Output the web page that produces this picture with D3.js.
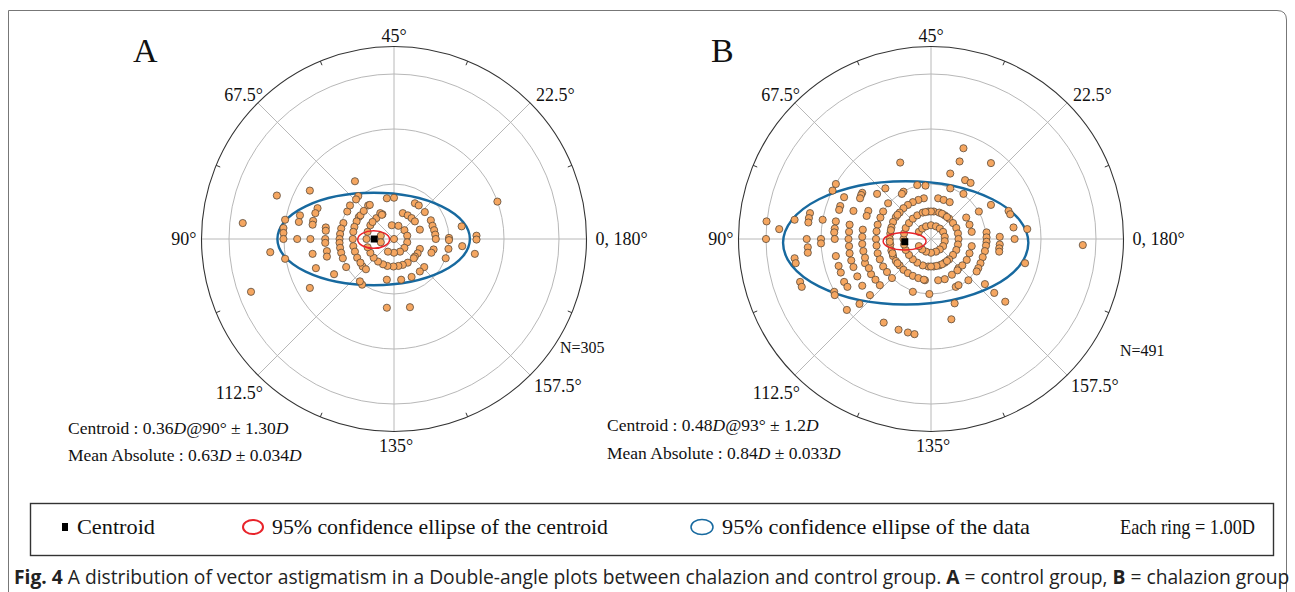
<!DOCTYPE html>
<html><head><meta charset="utf-8">
<script src="https://cdn.jsdelivr.net/npm/d3@7"></script>
<style>html,body{margin:0;padding:0;background:#fff;} svg{display:block;}</style>
</head><body><svg id="chart" width="1295" height="592"></svg>
<script>
// ---------- DATA ----------
const axisAngles = [0, 22.5, 45, 67.5, 90, 112.5, 135, 157.5];
const angleLabels = ["0, 180°", "22.5°", "45°", "67.5°", "90°", "112.5°", "135°", "157.5°"];
const ringValues = [1, 2, 3];
const maxDiopter = 3.5;

// double-angle coordinates (D): x = C·cos2θ, y = C·sin2θ
const pointsA = [
[-0.71,1.05],[-1.53,0.88],[-2.13,0.79],[-0.65,0.78],[-0.69,0.72],[-1.39,0.56],[-1.43,0.47],[-1.71,0.43],[-1.73,0.31],[-1.98,0.35],
[-2.01,0.20],[-2.01,0.11],[-2.01,0],[-2.75,0.29],[-1.76,0],[-1.52,0],[-1.47,0.33],[-1.48,0.26],[-1.24,0.21],[-1.24,0.15],
[-1.25,0],[-1.25,-0.07],[-2.25,-0.24],[-1.98,-0.36],[-1.48,-0.27],[-1.22,-0.22],[-1.22,-0.32],[-1.42,-0.53],[-1.09,-0.64],[-0.87,-0.51],
[-1.53,-0.89],[-2.60,-0.96],[-0.85,0.50],[-0.80,0.61],[-0.58,-0.83],[-0.62,-0.77],[-0.13,-1.25],[0.29,-1.24],[1.88,0.68],[1.23,0.23],
[1.50,0.06],[1.50,-0.01],[1.24,-0.13],[1.47,-0.27],[1.0,0.02],[1.0,-0.02],[0.99,-0.18],[0.94,-0.35],[0,0],
[-0.04,0.25],[0.08,0.24],[0.19,0.16],[0.24,0.06],[0.24,-0.06],[0.19,-0.16],[0.11,-0.23],[0,-0.25],[-0.11,-0.23],[-0.24,0.06],[-0.24,-0.06],
[-0.32,0.38],[-0.21,0.45],[-0.25,0.47],[-0.22,0.44],[0.16,0.47],[0.25,0.43],[0.32,0.38],[0.38,0.32],[0.47,0.17],[0.47,-0.18],
[0.43,-0.26],[0.38,-0.32],[0.36,-0.35],[0.25,-0.43],[0.16,-0.47],[0.08,-0.49],[-0.01,-0.5],[-0.12,-0.49],[-0.20,-0.46],[-0.29,-0.41],
[-0.37,-0.34],[-0.43,-0.25],[-0.48,-0.15],[-0.5,0],[-0.48,0.13],[-0.43,0.25],[-0.39,0.31],
[-0.47,0.61],[-0.44,0.62],[-0.13,0.74],[0,0.75],[0.38,0.65],[0.45,0.61],[0.56,0.49],[0.67,0.34],[0.70,0.24],[0.73,0.16],
[0.75,0.08],[0.76,0],[0.72,-0.19],[0.68,-0.25],[0.55,-0.51],[0.47,-0.59],[0.32,-0.69],[0.13,-0.74],[-0.13,-0.74],[-0.57,-0.50],
[-0.51,-0.55],[-0.64,0.40],[-0.61,0.43],[-0.68,0.32],[-0.72,0.22],[-0.74,0.13],[-0.75,0],[-0.74,-0.13],[-0.71,-0.23],[-0.67,-0.34],
[-0.61,-0.43],[-0.55,0.51],
[-0.92,0.29],[-0.96,0.19],[-0.98,0.09],[-0.99,0],[-0.99,-0.07],[-0.98,-0.16],[-0.96,-0.25],[-0.93,-0.35]
];

const pointsB = [
[-1.73,1.00],[-1.79,0.88],[-1.58,0.76],[-1.25,0.84],[-1.27,0.80],[-1.29,0.74],[-1.65,0.60],[-1.67,0.53],[-1.41,0.51],[-1.14,0.51],
[-1.17,0.42],[-2.20,0.47],[-2.22,0.38],[-2.23,0.30],[-1.97,0.35],[-1.73,0.32],[-1.75,0.19],[-1.76,0.12],[-1.75,0],[-2.99,0.32],
[-3.0,0],[-2.76,0.18],[-2.48,0.35],[-2.26,0],[-2.0,0],[-2.0,-0.08],[-2.24,-0.15],[-2.24,-0.25],[-2.48,-0.35],[-2.46,-0.44],
[-2.38,-0.78],[-2.35,-0.87],[-1.73,-0.31],[-1.68,-0.49],[-1.64,-0.61],[-1.58,-0.78],[-1.52,-0.87],[-1.76,-0.96],[-1.75,-1.02],[-1.53,-1.29],
[-1.30,-1.18],[-1.34,-0.68],[-1.25,-0.85],[-1.09,-0.64],[-1.11,-1.02],[-1.20,-0.44],
[-0.56,1.39],[0.59,1.65],[0.52,1.41],[0.35,1.19],[0.62,1.07],[0.72,1.02],[-0.98,0.82],[-0.83,0.92],[-0.50,0.86],[-0.53,0.82],
[-0.25,0.98],[-0.10,0.97],[0.35,0.92],[0.87,0.50],[0.59,0.82],[-0.78,0.65],
[-0.86,-1.52],[-0.59,-1.65],[-0.42,-1.70],[-0.30,-1.73],[0.37,-1.46],[0.43,-1.17],[-0.33,-0.96],[-0.03,-1.0],
[1.09,1.38],[1.09,0.62],[1.41,0.51],[1.44,0.45],[1.50,0.21],[1.52,0],[1.75,0.18],[1.25,0.04],[1.25,-0.10],[1.24,-0.17],
[1.24,-0.23],[2.76,-0.11],[1.71,-0.44],[1.15,-0.98],[1.35,-1.14],
[0.50,-0.53],[0.68,-0.75],[0.98,-0.82],[0.13,-0.75],[0.25,-0.73],[-0.11,-0.75],[0.45,-0.87],[0.50,-0.84],[0.70,0.26],
[-0.22,0.13],[-0.16,0.19],[-0.09,0.23],[0,0.25],[0.09,0.23],[0.16,0.19],[0.22,0.13],[0.25,0.04],[0.25,-0.04],[0.22,-0.13],
[0.16,-0.19],[0.09,-0.23],[0,-0.25],[-0.09,-0.23],[-0.16,-0.19],[-0.22,-0.13],
[-0.5,0],[-0.49,0.10],[-0.46,0.20],[-0.40,0.29],[-0.33,0.37],[-0.25,0.43],[-0.15,0.48],[-0.05,0.50],[0.05,0.50],[0.15,0.48],
[0.25,0.43],[0.33,0.37],[0.40,0.29],[0.46,0.20],[0.49,0.10],[0.5,0],[0.49,-0.10],[0.46,-0.20],[0.40,-0.29],[0.33,-0.37],
[0.25,-0.43],[0.15,-0.48],[0.05,-0.50],[-0.05,-0.50],[-0.15,-0.48],[-0.25,-0.43],[-0.33,-0.37],[-0.40,-0.29],[-0.46,-0.20],[-0.49,-0.10],
[0.20,0.46],[0.29,0.40],[0.20,-0.46],[0.29,-0.40],[0.10,-0.49],[0,-0.5],[0,0.5],[-0.10,0.49],
[-0.13,0.74],[-0.23,0.71],[-0.33,0.67],[-0.42,0.62],[-0.50,0.56],[-0.57,0.48],[-0.64,0.40],[-0.69,0.31],[-0.72,0.21],[-0.74,0.10],
[-0.75,0],[-0.74,-0.10],[-0.72,-0.21],[-0.69,-0.31],[-0.64,-0.40],[-0.57,-0.48],[-0.50,-0.56],[-0.42,-0.62],[-0.33,-0.67],[-0.23,-0.71],
[-0.13,-0.74],[0.13,0.74],[0.23,0.71],[0.34,0.67],[0.64,0.39],[0.74,0.13],[0.74,-0.13],[0.70,-0.26],[0.65,-0.38],[0.57,-0.48],
[0.48,-0.57],[0.38,-0.65],[-0.61,0.44],[-0.73,0.16],[-0.75,-0.05],[-0.70,-0.26],[-0.61,-0.44],
[-0.87,0.50],[-0.92,0.39],[-0.97,0.26],[-0.99,0.14],[-1,0],[-0.99,-0.12],[-0.97,-0.26],[-0.93,-0.37],[-0.87,-0.50],[-0.80,-0.60],
[-0.71,-0.71],[1.01,0.12],[1.01,0.03],[1.01,-0.05],[1.0,-0.12],[0.98,-0.22],[0.94,-0.33],[0.90,-0.44],[0.86,-0.53],[0.83,-0.59],
[-1.24,0.17],[-1.25,0.04],[-1.25,-0.09],[-1.23,-0.22],[-1.20,-0.34],[-1.13,-0.53],[-1.01,-0.74],[-0.93,-0.84],
[-1.48,0.26],[-1.49,0.13],[-1.5,0],[-1.49,-0.13],[-1.48,-0.26],[-1.45,-0.39],[-1.41,-0.51]
];

// centroid [x, y] (D); ellipses [cx, cy, rx, ry] (D)
const centroidA = [-0.36, 0];
const centroidEllipseA = [-0.37, -0.01, 0.29, 0.16];
const dataEllipseA = [-0.37, 0, 1.75, 0.84];
const centroidB = [-0.477, -0.05];
const centroidEllipseB = [-0.48, -0.04, 0.39, 0.16];
const dataEllipseB = [-0.46, -0.07, 2.23, 1.12];

const panelLetters = ["A", "B"];
const centroidStats = [["0.36", "90", "1.30"], ["0.48", "93", "1.2"]];
const meanAbsStats = [["0.63", "0.034"], ["0.84", "0.033"]];
const sampleSizes = [305, 491];

const legendLabels = ["Centroid", "95% confidence ellipse of the centroid", "95% confidence ellipse of the data", "Each ring = 1.00D"];

// ---------- LAYOUT ----------
const svg = d3.select("#chart");
const R = 192.5;
const panels = [
  {cx: 394, cy: 239, letterX: 133, letterY: 62, statX: 68, statY1: 434, statY2: 461, nX: 560, nY: 353},
  {cx: 931, cy: 239, letterX: 711, letterY: 62, statX: 607, statY1: 431, statY2: 459, nX: 1120, nY: 356}
];
const serif = "'Liberation Serif', 'Times New Roman', serif";
const gridColor = "#b8b8b8";
const dotFill = "#f5a660";
const blue = "#17699f";
const red = "#e8232a";

// outer frame
svg.append("path")
  .attr("d", "M8.5,592 L8.5,10.5 L1277,10.5 Q1286.5,10.5 1286.5,20 L1286.5,592")
  .attr("fill", "none").attr("stroke", "#777").attr("stroke-width", 1);

const datasets = [
  {pts: pointsA, c: centroidA, ce: centroidEllipseA, de: dataEllipseA},
  {pts: pointsB, c: centroidB, ce: centroidEllipseB, de: dataEllipseB}
];

panels.forEach((p, i) => {
  const d = datasets[i];
  const g = svg.append("g");
  const x = d3.scaleLinear().domain([-maxDiopter, maxDiopter]).range([p.cx - R, p.cx + R]);
  const y = d3.scaleLinear().domain([-maxDiopter, maxDiopter]).range([p.cy + R, p.cy - R]);
  const r = d3.scaleLinear().domain([0, maxDiopter]).range([0, R]);
  const rad = a => 2 * a * Math.PI / 180;

  g.selectAll("circle.ring").data(ringValues).join("circle")
    .attr("cx", x(0)).attr("cy", y(0)).attr("r", v => r(v))
    .attr("fill", "none").attr("stroke", gridColor).attr("stroke-width", 1);
  g.selectAll("line.spoke").data(axisAngles).join("line")
    .attr("x1", x(0)).attr("y1", y(0))
    .attr("x2", a => x(maxDiopter * Math.cos(rad(a))))
    .attr("y2", a => y(maxDiopter * Math.sin(rad(a))))
    .attr("stroke", gridColor).attr("stroke-width", 1);
  g.append("circle").attr("cx", x(0)).attr("cy", y(0)).attr("r", r(maxDiopter))
    .attr("fill", "none").attr("stroke", "#333").attr("stroke-width", 1.1);
  const tickAngles = axisAngles.map(a => a + 11.25);
  g.selectAll("line.tick").data(tickAngles).join("line")
    .attr("x1", a => x(maxDiopter * Math.cos(rad(a))))
    .attr("y1", a => y(maxDiopter * Math.sin(rad(a))))
    .attr("x2", a => x((maxDiopter - 0.08) * Math.cos(rad(a))))
    .attr("y2", a => y((maxDiopter - 0.08) * Math.sin(rad(a))))
    .attr("stroke", "#333").attr("stroke-width", 1);

  const lab = (a) => {
    const s = 2 * a;
    const c = Math.cos(s * Math.PI / 180), sn = Math.sin(s * Math.PI / 180);
    if (s === 0) return {x: x(0) + R + 9, y: y(0) + 6, anchor: "start"};
    if (s === 180) return {x: x(0) - R - 5, y: y(0) + 6, anchor: "end"};
    if (s === 90) return {x: x(0), y: y(0) - R - 5, anchor: "middle"};
    if (s === 270) return {x: x(0) + 2, y: y(0) + R + 20, anchor: "middle"};
    if (s === 45) return {x: x(0) + R * c + 6, y: y(0) - R * sn - 2, anchor: "start"};
    if (s === 135) return {x: x(0) + R * c + 5, y: y(0) - R * sn - 2, anchor: "end"};
    if (s === 225) return {x: x(0) + R * c + 5, y: y(0) - R * sn + 24, anchor: "end"};
    return {x: x(0) + R * c + 4, y: y(0) - R * sn + 17, anchor: "start"};
  };
  g.selectAll("text.ang").data(axisAngles).join("text")
    .attr("x", a => lab(a).x).attr("y", a => lab(a).y)
    .attr("text-anchor", a => lab(a).anchor)
    .attr("font-family", serif).attr("font-size", 18).attr("fill", "#111")
    .text((a, k) => angleLabels[k]);

  g.append("ellipse").attr("cx", x(d.de[0])).attr("cy", y(d.de[1]))
    .attr("rx", r(d.de[2])).attr("ry", r(d.de[3]))
    .attr("fill", "none").attr("stroke", blue).attr("stroke-width", 2.4);
  g.selectAll("circle.pt").data(d.pts).join("circle")
    .attr("cx", v => x(v[0])).attr("cy", v => y(v[1])).attr("r", 3.6)
    .attr("fill", dotFill).attr("stroke", "#5a4a3a").attr("stroke-width", 0.8);
  g.append("ellipse").attr("cx", x(d.ce[0])).attr("cy", y(d.ce[1]))
    .attr("rx", r(d.ce[2])).attr("ry", r(d.ce[3]))
    .attr("fill", "none").attr("stroke", red).attr("stroke-width", 1.5);
  g.append("rect").attr("x", x(d.c[0]) - 3.5).attr("y", y(d.c[1]) - 3.5)
    .attr("width", 7).attr("height", 7).attr("fill", "#000");

  g.append("text").attr("x", p.letterX).attr("y", p.letterY)
    .attr("font-family", serif).attr("font-size", 34).attr("fill", "#111").text(panelLetters[i]);
  g.append("text").attr("x", p.nX).attr("y", p.nY)
    .attr("font-family", serif).attr("font-size", 16).attr("fill", "#111").text("N=" + sampleSizes[i]);

  const cs = centroidStats[i], ms = meanAbsStats[i];
  const t1 = g.append("text").attr("x", p.statX).attr("y", p.statY1)
    .attr("font-family", serif).attr("font-size", 17.5).attr("fill", "#111");
  t1.append("tspan").text("Centroid : " + cs[0]);
  t1.append("tspan").attr("font-style", "italic").text("D");
  t1.append("tspan").text("@" + cs[1] + "° ± " + cs[2]);
  t1.append("tspan").attr("font-style", "italic").text("D");
  const t2 = g.append("text").attr("x", p.statX).attr("y", p.statY2)
    .attr("font-family", serif).attr("font-size", 17.5).attr("fill", "#111");
  t2.append("tspan").text("Mean Absolute : " + ms[0]);
  t2.append("tspan").attr("font-style", "italic").text("D");
  t2.append("tspan").text(" ± " + ms[1]);
  t2.append("tspan").attr("font-style", "italic").text("D");
});

// ---------- LEGEND ----------
const lg = svg.append("g");
lg.append("rect").attr("x", 30.5).attr("y", 503.5).attr("width", 1243).attr("height", 52)
  .attr("fill", "none").attr("stroke", "#333").attr("stroke-width", 1.4);
const ly = 527;
lg.append("rect").attr("x", 62).attr("y", ly - 4).attr("width", 6).attr("height", 8).attr("fill", "#000");
lg.append("ellipse").attr("cx", 253).attr("cy", ly).attr("rx", 10).attr("ry", 7)
  .attr("fill", "none").attr("stroke", red).attr("stroke-width", 2);
lg.append("ellipse").attr("cx", 702).attr("cy", ly).attr("rx", 11).attr("ry", 7.5)
  .attr("fill", "none").attr("stroke", blue).attr("stroke-width", 1.5);
const legendX = [77, 272, 722, 1120];
const legendW = [78, 336, 308, 135];
lg.selectAll("text.lg").data(legendLabels).join("text")
  .attr("x", (t, k) => legendX[k]).attr("y", ly + 7)
  .attr("font-family", serif).attr("font-size", 21).attr("fill", "#111")
  .attr("textLength", (t, k) => legendW[k]).attr("lengthAdjust", "spacingAndGlyphs")
  .text(t => t);

// ---------- CAPTION ----------
const cap = svg.append("text").attr("x", 14).attr("y", 584)
  .attr("font-family", "'Open Sans', 'Noto Sans', sans-serif").attr("font-size", 20).attr("fill", "#222");
cap.append("tspan").attr("font-weight", "bold").text("Fig. 4");
cap.append("tspan").text("  A distribution of vector astigmatism in a Double-angle plots between chalazion and control group. ");
cap.append("tspan").attr("font-weight", "bold").text("A");
cap.append("tspan").text(" = control group, ");
cap.append("tspan").attr("font-weight", "bold").text("B");
cap.append("tspan").text(" = chalazion group");
const len = cap.node().getComputedTextLength();
const sx = 1276 / len;
cap.attr("transform", `translate(14,0) scale(${sx},1) translate(-14,0)`);
</script></body></html>
